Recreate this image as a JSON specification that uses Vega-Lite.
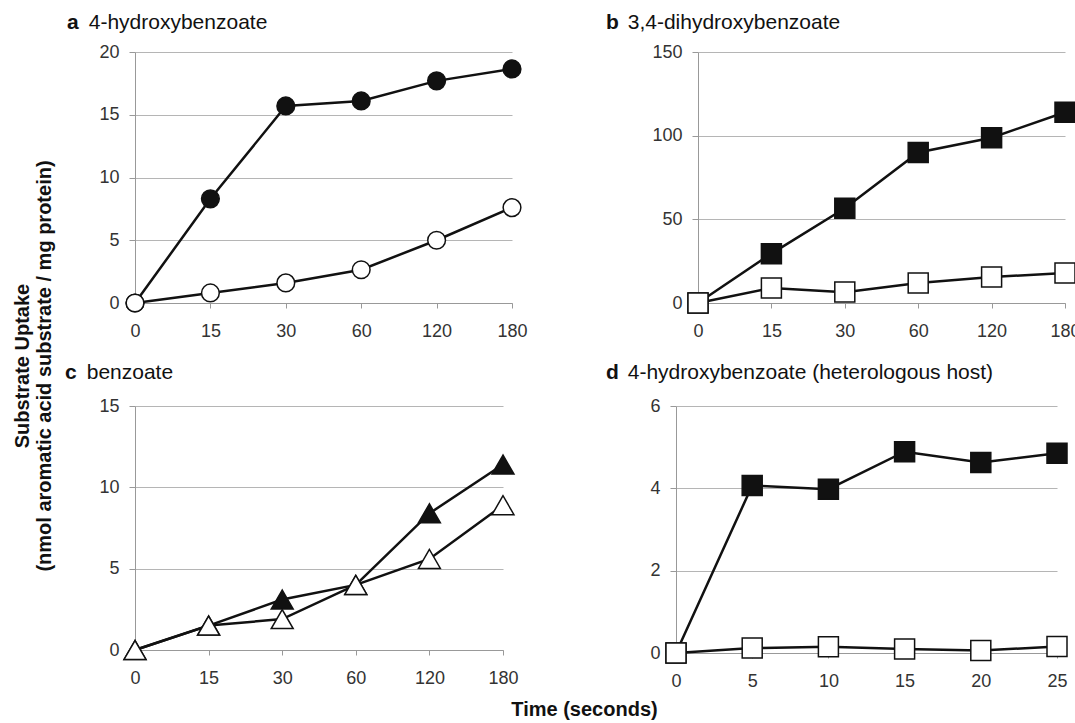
{
  "$schema": "https://vega.github.io/schema/vega-lite/v6.json",
  "padding": {"left": 12, "top": 12, "right": 0, "bottom": 4},
  "config": {
    "font": "Liberation Sans",
    "view": {"stroke": null},
    "axisX": {"domainColor": "#999", "tickColor": "#999", "tickSize": 5, "labelFontSize": 18, "labelColor": "#333", "labelPadding": 14, "grid": false, "labelAngle": 0},
    "axisY": {"domainColor": "#999", "tickColor": "#999", "tickSize": 6, "gridColor": "#b5b5b5", "labelFontSize": 18, "labelColor": "#333", "labelPadding": 10},
    "point": {"opacity": 1}
  },
  "title": {"text": ["Substrate Uptake", "(nmol aromatic acid substrate / mg protein)"], "orient": "left", "anchor": "middle", "fontSize": 20, "fontWeight": "bold", "color": "#111", "offset": 10, "lineHeight": 22},
  "datasets": {
    "a": [
      {"t": 0, "v": 0, "s": "filled"}, {"t": 15, "v": 8.3, "s": "filled"}, {"t": 30, "v": 15.7, "s": "filled"}, {"t": 60, "v": 16.1, "s": "filled"}, {"t": 120, "v": 17.7, "s": "filled"}, {"t": 180, "v": 18.65, "s": "filled"},
      {"t": 0, "v": 0, "s": "open"}, {"t": 15, "v": 0.8, "s": "open"}, {"t": 30, "v": 1.6, "s": "open"}, {"t": 60, "v": 2.65, "s": "open"}, {"t": 120, "v": 5.0, "s": "open"}, {"t": 180, "v": 7.6, "s": "open"}
    ],
    "b": [
      {"t": 0, "v": 0, "s": "filled"}, {"t": 15, "v": 29.5, "s": "filled"}, {"t": 30, "v": 56.6, "s": "filled"}, {"t": 60, "v": 90, "s": "filled"}, {"t": 120, "v": 98.8, "s": "filled"}, {"t": 180, "v": 114, "s": "filled"},
      {"t": 0, "v": 0, "s": "open"}, {"t": 15, "v": 9, "s": "open"}, {"t": 30, "v": 6.5, "s": "open"}, {"t": 60, "v": 12, "s": "open"}, {"t": 120, "v": 15.5, "s": "open"}, {"t": 180, "v": 18, "s": "open"}
    ],
    "c": [
      {"t": 0, "v": 0, "s": "filled"}, {"t": 15, "v": 1.5, "s": "filled"}, {"t": 30, "v": 3.1, "s": "filled"}, {"t": 60, "v": 4.0, "s": "filled"}, {"t": 120, "v": 8.4, "s": "filled"}, {"t": 180, "v": 11.4, "s": "filled"},
      {"t": 0, "v": 0, "s": "open"}, {"t": 15, "v": 1.5, "s": "open"}, {"t": 30, "v": 1.9, "s": "open"}, {"t": 60, "v": 4.0, "s": "open"}, {"t": 120, "v": 5.6, "s": "open"}, {"t": 180, "v": 8.9, "s": "open"}
    ],
    "d": [
      {"t": 0, "v": 0, "s": "filled"}, {"t": 5, "v": 4.07, "s": "filled"}, {"t": 10, "v": 3.98, "s": "filled"}, {"t": 15, "v": 4.89, "s": "filled"}, {"t": 20, "v": 4.63, "s": "filled"}, {"t": 25, "v": 4.85, "s": "filled"},
      {"t": 0, "v": 0, "s": "open"}, {"t": 5, "v": 0.12, "s": "open"}, {"t": 10, "v": 0.15, "s": "open"}, {"t": 15, "v": 0.1, "s": "open"}, {"t": 20, "v": 0.06, "s": "open"}, {"t": 25, "v": 0.16, "s": "open"}
    ]
  },
  "spacing": 22,
  "vconcat": [
    {
      "spacing": 78,
      "hconcat": [
        {
          "width": 377, "height": 251,
          "data": {"name": "a"},
          "title": {"text": "a", "subtitle": "\u200d\u00a0\u00a0\u00a0\u20094-hydroxybenzoate", "anchor": "start", "frame": "group", "dx": -68, "fontSize": 21, "fontWeight": "bold", "subtitleFontSize": 21, "subtitleFontWeight": "normal", "subtitlePadding": -21, "color": "#111", "subtitleColor": "#111", "offset": 10},
          "encoding": {
            "x": {"field": "t", "type": "ordinal", "scale": {"type": "point", "padding": 0}, "axis": {"title": null}},
            "y": {"field": "v", "type": "quantitative", "scale": {"domain": [0, 20]}, "axis": {"title": null, "values": [0, 5, 10, 15, 20]}}
          },
          "layer": [
            {"mark": {"type": "line", "color": "#111", "strokeWidth": 2.5}, "encoding": {"detail": {"field": "s"}}},
            {"mark": {"type": "point", "shape": "circle", "filled": true, "size": 314, "stroke": "#111", "strokeWidth": 1.5},
             "encoding": {"fill": {"field": "s", "type": "nominal", "scale": {"domain": ["filled", "open"], "range": ["#111", "#fff"]}, "legend": null}}}
          ]
        },
        {
          "width": 367, "height": 251,
          "data": {"name": "b"},
          "title": {"text": "b", "subtitle": "\u200d\u00a0\u00a0\u00a0\u20093,4-dihydroxybenzoate", "anchor": "start", "frame": "group", "dx": -92, "fontSize": 21, "fontWeight": "bold", "subtitleFontSize": 21, "subtitleFontWeight": "normal", "subtitlePadding": -21, "color": "#111", "subtitleColor": "#111", "offset": 10},
          "encoding": {
            "x": {"field": "t", "type": "ordinal", "scale": {"type": "point", "padding": 0}, "axis": {"title": null}},
            "y": {"field": "v", "type": "quantitative", "scale": {"domain": [0, 150]}, "axis": {"title": null, "values": [0, 50, 100, 150]}}
          },
          "layer": [
            {"mark": {"type": "line", "color": "#111", "strokeWidth": 2.5}, "encoding": {"detail": {"field": "s"}}},
            {"mark": {"type": "point", "shape": "square", "filled": true, "size": 400, "stroke": "#111", "strokeWidth": 1.5},
             "encoding": {"fill": {"field": "s", "type": "nominal", "scale": {"domain": ["filled", "open"], "range": ["#111", "#fff"]}, "legend": null}}}
          ]
        }
      ]
    },
    {
      "spacing": 87,
      "title": {"text": "Time (seconds)", "orient": "bottom", "anchor": "middle", "fontSize": 20, "fontWeight": "bold", "color": "#111", "dx": 17, "offset": 10},
      "hconcat": [
        {
          "width": 368, "height": 244,
          "data": {"name": "c"},
          "title": {"text": "c", "subtitle": "\u200d\u00a0\u00a0\u00a0\u2009benzoate", "anchor": "start", "frame": "group", "dx": -70, "fontSize": 21, "fontWeight": "bold", "subtitleFontSize": 21, "subtitleFontWeight": "normal", "subtitlePadding": -21, "color": "#111", "subtitleColor": "#111", "offset": 14},
          "encoding": {
            "x": {"field": "t", "type": "ordinal", "scale": {"type": "point", "padding": 0}, "axis": {"title": null}},
            "y": {"field": "v", "type": "quantitative", "scale": {"domain": [0, 15]}, "axis": {"title": null, "values": [0, 5, 10, 15]}}
          },
          "layer": [
            {"mark": {"type": "line", "color": "#111", "strokeWidth": 2.5}, "encoding": {"detail": {"field": "s"}}},
            {"mark": {"type": "point", "shape": "triangle-up", "filled": true, "size": 480, "stroke": "#111", "strokeWidth": 1.5},
             "encoding": {"fill": {"field": "s", "type": "nominal", "scale": {"domain": ["filled", "open"], "range": ["#111", "#fff"]}, "legend": null}}}
          ]
        },
        {
          "width": 381, "height": 247,
          "data": {"name": "d"},
          "title": {"text": "d", "subtitle": "\u200d\u00a0\u00a0\u00a0\u20094-hydroxybenzoate (heterologous host)", "anchor": "start", "frame": "group", "dx": -70, "fontSize": 21, "fontWeight": "bold", "subtitleFontSize": 21, "subtitleFontWeight": "normal", "subtitlePadding": -21, "color": "#111", "subtitleColor": "#111", "offset": 14},
          "encoding": {
            "x": {"field": "t", "type": "ordinal", "scale": {"type": "point", "padding": 0}, "axis": {"title": null}},
            "y": {"field": "v", "type": "quantitative", "scale": {"domain": [0, 6]}, "axis": {"title": null, "values": [0, 2, 4, 6]}}
          },
          "layer": [
            {"mark": {"type": "line", "color": "#111", "strokeWidth": 2.5}, "encoding": {"detail": {"field": "s"}}},
            {"mark": {"type": "point", "shape": "square", "filled": true, "size": 400, "stroke": "#111", "strokeWidth": 1.5},
             "encoding": {"fill": {"field": "s", "type": "nominal", "scale": {"domain": ["filled", "open"], "range": ["#111", "#fff"]}, "legend": null}}}
          ]
        }
      ]
    }
  ]
}
